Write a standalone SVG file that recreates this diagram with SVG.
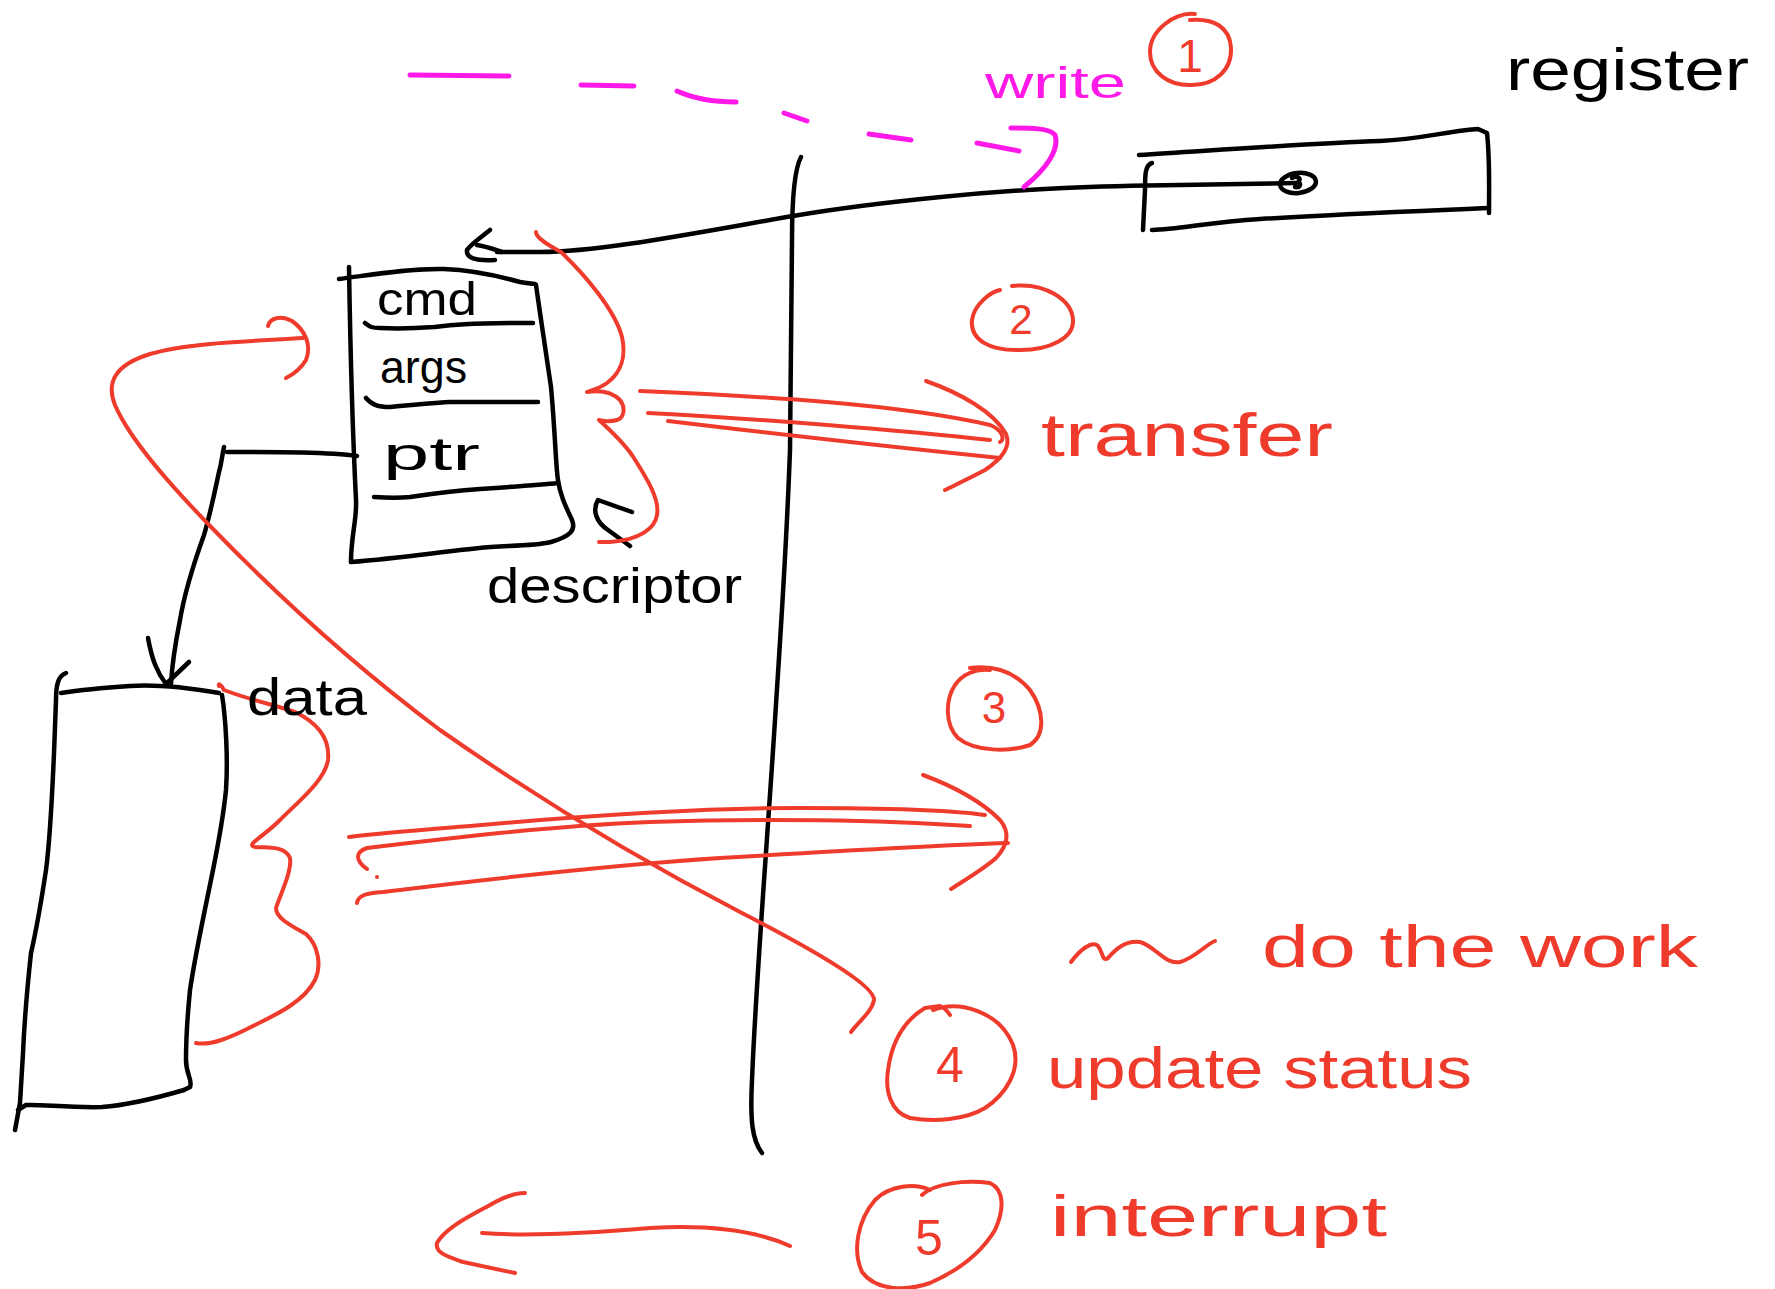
<svg xmlns="http://www.w3.org/2000/svg" width="1775" height="1289" viewBox="0 0 1775 1289">
<style>
.k{fill:none;stroke:#000;stroke-width:4.5;stroke-linecap:round;stroke-linejoin:round}
.r{fill:none;stroke:#EF3B2C;stroke-width:4;stroke-linecap:round;stroke-linejoin:round}
.m{fill:none;stroke:#FF19E8;stroke-width:5;stroke-linecap:round;stroke-linejoin:round}
.tk{font-family:"Liberation Sans",Arial,sans-serif;fill:#000}
.tr{font-family:"Liberation Sans",Arial,sans-serif;fill:#EF3B2C}
.tm{font-family:"Liberation Sans",Arial,sans-serif;fill:#FF19E8}
</style>
<rect width="1775" height="1289" fill="#fff"/>

<g id="connectors">
  <!-- divider -->
  <path class="k" d="M801,157 C794,170 792,200 792,240 L790,450 C786,560 780,640 775,720 C766,860 756,980 752,1080 C750,1120 752,1140 762,1153"/>
  <!-- register -> descriptor pointer -->
  <path class="k" d="M1296,183 L1180,185 C1100,186 1030,188 941,197 C880,203 840,208 793,216 C700,232 600,252 540,252 L497,252"/>
  <path class="k" d="M490,230 C480,238 470,245 467,250 C466,258 475,261 495,260 M477,245 C485,246 493,249 502,252"/>
  <!-- ptr -> data pointer -->
  <path class="k" d="M357,456 C330,452 280,452 227,452 M224,447 C222,455 222,462 219,472 C214,495 210,515 204,535 C195,560 185,590 180,620 C175,645 172,665 171,684"/>
  <path class="k" d="M148,638 C152,660 157,672 166,684 L189,662"/>
  <!-- small arrow at descriptor -->
  <path class="k" d="M632,512 L598,500 C592,510 596,522 608,530 L630,546"/>

  <!-- magenta write arrow -->
  <path class="m" d="M410,75 L509,76 M581,85 L634,86 M677,91 C690,97 710,102 736,102 M784,113 L807,121 M869,134 L911,140 M977,143 L1019,151"/>
  <path class="m" d="M1011,128 C1030,128 1050,128 1055,135 C1060,150 1045,170 1024,187"/>

  <!-- descriptor brace -->
  <path class="r" d="M536,232 C536,238 548,245 561,252 C585,275 615,310 622,337 C626,355 622,372 607,383 C600,388 592,390 587,392 C600,390 612,392 620,400 C626,408 624,418 617,420 C610,422 602,421 599,420 C610,430 625,445 632,455 C648,480 660,500 657,515 C655,528 640,540 610,542 L599,542"/>
  <!-- transfer arrow -->
  <path class="r" d="M640,391 C760,396 900,404 990,425 C1003,430 1005,440 1000,442"/>
  <path class="r" d="M648,413 C760,419 900,430 990,440"/>
  <path class="r" d="M668,421 C760,432 900,448 1000,458"/>
  <path class="r" d="M926,381 C960,393 994,412 1006,434 C1012,448 1000,460 985,470 C970,478 955,485 945,490"/>

  <!-- data brace -->
  <path class="r" d="M219,686 C218,683 221,684 224,690 C250,700 275,705 295,712 C320,724 330,740 328,760 C325,780 300,800 280,820 C262,838 245,845 255,847 C270,848 285,846 290,858 C292,872 280,895 276,908 C276,918 290,925 306,934 C318,945 322,965 315,980 C305,1000 280,1013 255,1025 C230,1038 210,1046 196,1043"/>
  <!-- data transfer arrow -->
  <path class="r" d="M349,837 C380,833 420,830 470,826 C560,818 700,808 800,808 C880,808 950,810 985,815"/>
  <path class="r" d="M367,869 C355,860 355,852 367,848 C450,838 550,826 650,822 C760,818 880,820 970,826"/>
  <path class="r" d="M357,903 C358,896 365,893 383,892 C480,880 600,866 720,858 C820,852 920,846 1008,843"/>
  <circle cx="377" cy="877" r="2" fill="#EF3B2C"/>
  <path class="r" d="M923,775 C950,785 980,800 1000,820 C1010,832 1008,845 996,858 C985,868 965,880 951,889"/>

  <!-- big return curve (update status) -->
  <path class="r" d="M303,338 C260,341 190,342 150,354 C118,364 105,380 115,405 C130,440 170,485 214,530 C280,598 360,670 440,730 C540,800 640,860 740,912 C810,948 875,985 874,1000 C872,1012 858,1022 851,1032"/>
  <path class="r" d="M268,326 C270,318 280,315 292,321 C305,330 312,345 306,360 C300,370 292,375 286,378"/>

  <!-- interrupt arrow -->
  <path class="r" d="M482,1233 C520,1236 580,1234 650,1228 C700,1225 750,1228 790,1246"/>
  <path class="r" d="M525,1193 C515,1193 505,1196 490,1205 C470,1216 445,1228 437,1243 C435,1252 445,1256 463,1262 L515,1273"/>
</g>

<g id="register">
  <path class="k" d="M1139,155 C1220,150 1315,143 1380,141 C1423,139 1440,132 1478,129 L1487,133 C1490,160 1489,190 1489,213"/>
  <path class="k" d="M1489,208 C1420,211 1340,214 1260,219 C1210,222 1180,229 1152,230"/>
  <path class="k" d="M1152,163 C1145,165 1145,175 1145,190 L1143,230"/>
  <ellipse class="k" cx="1298" cy="183" rx="18" ry="10" transform="rotate(-6 1298 183)"/>
  <path class="k" stroke-width="3" d="M1292,178 C1298,175 1302,179 1298,182 C1302,184 1300,188 1295,187"/>
  <text class="tk" x="1506" y="90" font-size="60" textLength="243" lengthAdjust="spacingAndGlyphs">register</text>
</g>

<g id="descriptor">
  <path class="k" d="M339,279 C370,275 410,268 444,269 C470,270 495,275 520,282 C530,284 536,283 536,285 C541,320 547,360 551,387 C555,430 556,470 558,480 C560,495 566,507 572,520 C576,530 571,536 551,542 C530,547 500,545 479,548 C440,552 400,558 351,562"/>
  <path class="k" d="M349,267 C350,330 352,420 356,500 C357,520 351,535 351,562"/>
  <path class="k" d="M365,323 C370,327 372,328 380,328 C400,329 420,328 434,327 C450,325 465,323 533,323"/>
  <path class="k" d="M366,398 C372,405 378,407 390,407 C410,405 430,403 450,402 L538,402"/>
  <path class="k" d="M374,497 C390,498 400,498 410,497 C430,494 450,491 480,489 C510,487 540,485 558,483"/>
  <text class="tk" x="377" y="315" font-size="46" textLength="100" lengthAdjust="spacingAndGlyphs">cmd</text>
  <text class="tk" x="380" y="383" font-size="46" textLength="87" lengthAdjust="spacingAndGlyphs">args</text>
  <text class="tk" x="383" y="470" font-size="46" textLength="97" lengthAdjust="spacingAndGlyphs">ptr</text>
  <text class="tk" x="487" y="603" font-size="50" textLength="255" lengthAdjust="spacingAndGlyphs">descriptor</text>
</g>

<g id="data">
  <path class="k" d="M61,693 C80,690 100,688 130,686 C160,684 190,688 219,693"/>
  <path class="k" d="M66,673 C58,676 56,685 56,700 L54,753 C52,800 50,840 46,870 C40,910 34,940 31,953 C27,990 24,1030 23,1053 L20,1103 L15,1130"/>
  <path class="k" d="M222,695 C226,720 228,760 226,790 C223,820 219,840 213,870 C205,910 196,950 190,990 C187,1020 186,1050 186,1060 C186,1075 193,1080 190,1087 L184,1090"/>
  <path class="k" d="M184,1090 C160,1097 130,1105 102,1107 C70,1108 40,1104 26,1105 L18,1110"/>
  <text class="tk" x="247" y="715" font-size="52" textLength="120" lengthAdjust="spacingAndGlyphs">data</text>
</g>

<g id="step1">
  <text class="tm" x="985" y="98" font-size="44" textLength="141" lengthAdjust="spacingAndGlyphs">write</text>
  <path class="r" d="M1195,14 C1175,12 1150,30 1150,52 C1150,72 1168,86 1192,85 C1215,85 1232,70 1231,48 C1230,28 1215,18 1190,20"/>
  <text class="tr" x="1190" y="72" font-size="46" text-anchor="middle">1</text>
</g>

<g id="step2">
  <path class="r" d="M1012,286 C1045,282 1072,300 1073,320 C1074,338 1050,350 1020,350 C990,351 970,340 972,320 C974,305 990,292 1000,290"/>
  <text class="tr" x="1021" y="334" font-size="42" text-anchor="middle">2</text>
  <text class="tr" x="1041" y="456" font-size="62" textLength="292" lengthAdjust="spacingAndGlyphs">transfer</text>
</g>

<g id="step3">
  <path class="r" d="M970,668 C995,665 1015,672 1030,690 C1044,710 1046,735 1030,745 C1010,752 975,752 958,738 C945,725 945,700 955,685 C962,675 975,668 990,670"/>
  <text class="tr" x="994" y="723" font-size="44" text-anchor="middle">3</text>
</g>

<g id="work">
  <path class="r" d="M1071,962 C1080,950 1092,940 1098,946 C1103,952 1102,962 1108,958 C1115,950 1125,940 1140,942 C1155,946 1165,965 1180,962 C1195,958 1205,945 1215,941"/>
  <text class="tr" x="1262" y="967" font-size="60" textLength="436" lengthAdjust="spacingAndGlyphs">do the work</text>
</g>

<g id="step4">
  <path class="r" d="M933,1010 C960,1000 1000,1012 1013,1045 C1022,1070 1005,1095 985,1108 C965,1120 935,1122 910,1118 C890,1112 885,1090 888,1070 C892,1040 905,1020 925,1008 L940,1006 C945,1008 948,1012 950,1015"/>
  <text class="tr" x="950" y="1082" font-size="50" text-anchor="middle">4</text>
  <text class="tr" x="1047" y="1088" font-size="58" textLength="425" lengthAdjust="spacingAndGlyphs">update status</text>
</g>

<g id="step5">
  <path class="r" d="M922,1195 C935,1183 965,1180 990,1183 C1005,1190 1004,1210 995,1230 C980,1255 955,1272 930,1283 C905,1292 875,1290 862,1272 C852,1250 858,1220 875,1200 C890,1185 915,1183 930,1190"/>
  <text class="tr" x="929" y="1255" font-size="50" text-anchor="middle">5</text>
  <text class="tr" x="1050" y="1236" font-size="58" textLength="337" lengthAdjust="spacingAndGlyphs">interrupt</text>
</g>
</svg>
